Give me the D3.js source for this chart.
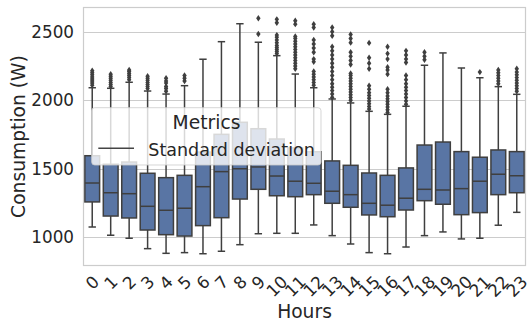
<!DOCTYPE html>
<html>
<head>
<meta charset="utf-8">
<script src="https://cdn.jsdelivr.net/npm/d3@7"></script>
<style>
  html, body { margin: 0; padding: 0; background: #fff; }
  svg { display: block; font-family: "DejaVu Sans", sans-serif; }
</style>
</head>
<body>
<svg id="chart" width="527" height="327"></svg>
<script>
const hours = ["0","1","2","3","4","5","6","7","8","9","10","11","12","13","14","15","16","17","18","19","20","21","22","23"];
const whiskerLow  = [1075,1015,993,917,883,888,880,898,946,1026,1029,1029,1090,1012,951,888,880,929,1012,1039,988,993,1088,1182];
const q1          = [1258,1155,1141,1053,1019,1009,1085,1143,1279,1350,1303,1296,1311,1248,1219,1163,1150,1199,1267,1241,1165,1180,1311,1325];
const median      = [1396,1325,1318,1226,1197,1212,1369,1479,1500,1513,1447,1409,1394,1336,1311,1248,1234,1285,1350,1345,1355,1409,1460,1449];
const q3          = [1595,1533,1549,1467,1435,1452,1622,1751,1839,1792,1717,1652,1624,1557,1525,1469,1452,1506,1673,1695,1625,1584,1637,1625];
const whiskerHigh = [2091,2087,2131,2067,2045,2106,2299,2427,2558,2423,2325,2191,2091,2009,1980,1919,1897,1956,2255,2345,2235,2164,2099,2043];
const outliers = [
  [2110,2125,2140,2155,2170,2185,2200,2215],
  [2100,2115,2130,2145,2160,2175,2190],
  [2150,2165,2180,2195,2210,2220],
  [2085,2100,2115,2130,2145,2160,2175],
  [2065,2085,2100,2125,2140,2160],
  [2140,2160,2180],
  [],
  [],
  [],
  [2483,2598],
  [2340,2355,2370,2385,2400,2420,2440,2460,2475,2565,2590],
  [2230,2250,2270,2290,2310,2330,2350,2370,2390,2410,2430,2450,2465,2555,2580],
  [2110,2130,2150,2170,2190,2210,2280,2300,2350,2380,2410,2440,2530,2555],
  [2020,2045,2070,2095,2120,2150,2180,2210,2240,2270,2300,2330,2360,2390,2470,2500,2530],
  [2000,2020,2040,2060,2080,2100,2120,2140,2160,2180,2195,2260,2290,2320,2350,2420,2450,2480],
  [1935,1955,1975,1995,2015,2035,2055,2080,2105,2230,2270,2310,2418],
  [1910,1930,1950,1970,1990,2010,2030,2055,2080,2190,2220,2240,2300,2340,2390],
  [1970,1995,2020,2045,2070,2095,2120,2150,2180,2275,2300,2330,2360],
  [2295,2320,2350],
  [],
  [],
  [2205],
  [2120,2140,2160,2180,2200,2220],
  [2065,2085,2105,2125,2145,2165,2185,2205,2230]
];
const yTicks = [1000,1500,2000,2500];
const legendTitle = "Metrics";
const legendLabel = "Standard deviation";
const xTitle = "Hours";
const yTitle = "Consumption (W)";

const svg = d3.select("#chart");
const L = 83, R = 526, T = 7, B = 266;
const x = d3.scaleBand().domain(hours).range([L, R]).padding(0);
const y = d3.scaleLinear().domain([790.5, 2680]).range([B, T]);

const boxFill = "#5975a4";
const edge = "#3f3f3f";
const gridC = "#cccccc";

// grid
svg.append("g").selectAll("line").data(yTicks).join("line")
  .attr("x1", L).attr("x2", R)
  .attr("y1", d => Math.round(y(d)) + 0.5).attr("y2", d => Math.round(y(d)) + 0.5)
  .attr("stroke", gridC).attr("stroke-width", 1);

const bw = x.bandwidth() * 0.8;
const capW = bw * 0.5;
const g = svg.append("g");
hours.forEach((h, i) => {
  const cx = x(h) + x.bandwidth() / 2;
  const gg = g.append("g");
  // whiskers
  gg.append("line").attr("x1", cx).attr("x2", cx).attr("y1", y(q1[i])).attr("y2", y(whiskerLow[i]))
    .attr("stroke", edge).attr("stroke-width", 1.5);
  gg.append("line").attr("x1", cx).attr("x2", cx).attr("y1", y(q3[i])).attr("y2", y(whiskerHigh[i]))
    .attr("stroke", edge).attr("stroke-width", 1.5);
  // caps
  [whiskerLow[i], whiskerHigh[i]].forEach(v => {
    gg.append("line").attr("x1", cx - capW / 2).attr("x2", cx + capW / 2).attr("y1", y(v)).attr("y2", y(v))
      .attr("stroke", edge).attr("stroke-width", 1.5);
  });
  // box
  gg.append("rect").attr("x", cx - bw / 2).attr("width", bw)
    .attr("y", y(q3[i])).attr("height", y(q1[i]) - y(q3[i]))
    .attr("fill", boxFill).attr("stroke", edge).attr("stroke-width", 1.5);
  gg.append("line").attr("x1", cx - bw / 2).attr("x2", cx + bw / 2).attr("y1", y(median[i])).attr("y2", y(median[i]))
    .attr("stroke", edge).attr("stroke-width", 1.5);
  // outliers (diamonds)
  gg.selectAll("path").data(outliers[i]).join("path")
    .attr("d", d => `M${cx},${y(d) - 3.2}L${cx + 2.2},${y(d)}L${cx},${y(d) + 3.2}L${cx - 2.2},${y(d)}Z`)
    .attr("fill", edge);
});

// spines
svg.append("rect").attr("x", L + 0.5).attr("y", T + 0.5).attr("width", R - L - 1).attr("height", B - T - 1)
  .attr("fill", "none").attr("stroke", gridC).attr("stroke-width", 1.2);

// y tick labels
svg.append("g").selectAll("text").data(yTicks).join("text")
  .attr("x", 74).attr("y", d => y(d)).attr("dy", "0.36em")
  .attr("text-anchor", "end").attr("font-size", 16.8).attr("fill", "#262626")
  .text(d => d);

// x tick labels
svg.append("g").selectAll("text").data(hours).join("text")
  .attr("text-anchor", "middle").attr("dy", "0.36em").attr("font-size", 16.8).attr("fill", "#262626")
  .attr("transform", d => {
    const cx = x(d) + x.bandwidth() / 2;
    const w = d.length * 10.7;
    const cy = 275 + (w + 10) / 2.83;
    return `translate(${cx},${cy}) rotate(-45)`;
  })
  .text(d => d);

// axis titles
svg.append("text").attr("x", (L + R) / 2).attr("y", 318.3).attr("text-anchor", "middle")
  .attr("font-size", 18.7).attr("fill", "#262626").text(xTitle);
svg.append("text").attr("transform", `translate(24.5,${(T + B) / 2}) rotate(-90)`).attr("text-anchor", "middle")
  .attr("font-size", 18.7).attr("fill", "#262626").text(yTitle);

// legend
const lg = svg.append("g");
lg.append("rect").attr("x", 91.7).attr("y", 107.7).attr("width", 229.3).attr("height", 57.3).attr("rx", 3)
  .attr("fill", "#ffffff").attr("fill-opacity", 0.8).attr("stroke", "#cccccc").attr("stroke-opacity", 0.8);
lg.append("text").attr("x", 206.5).attr("y", 129).attr("text-anchor", "middle")
  .attr("font-size", 18.7).attr("fill", "#262626").text(legendTitle);
lg.append("line").attr("x1", 98.3).attr("x2", 134).attr("y1", 148.3).attr("y2", 148.3)
  .attr("stroke", "#444444").attr("stroke-width", 1.5);
lg.append("text").attr("x", 148.3).attr("y", 155.7).attr("font-size", 17.5).attr("fill", "#262626").text(legendLabel);
</script>
</body>
</html>
